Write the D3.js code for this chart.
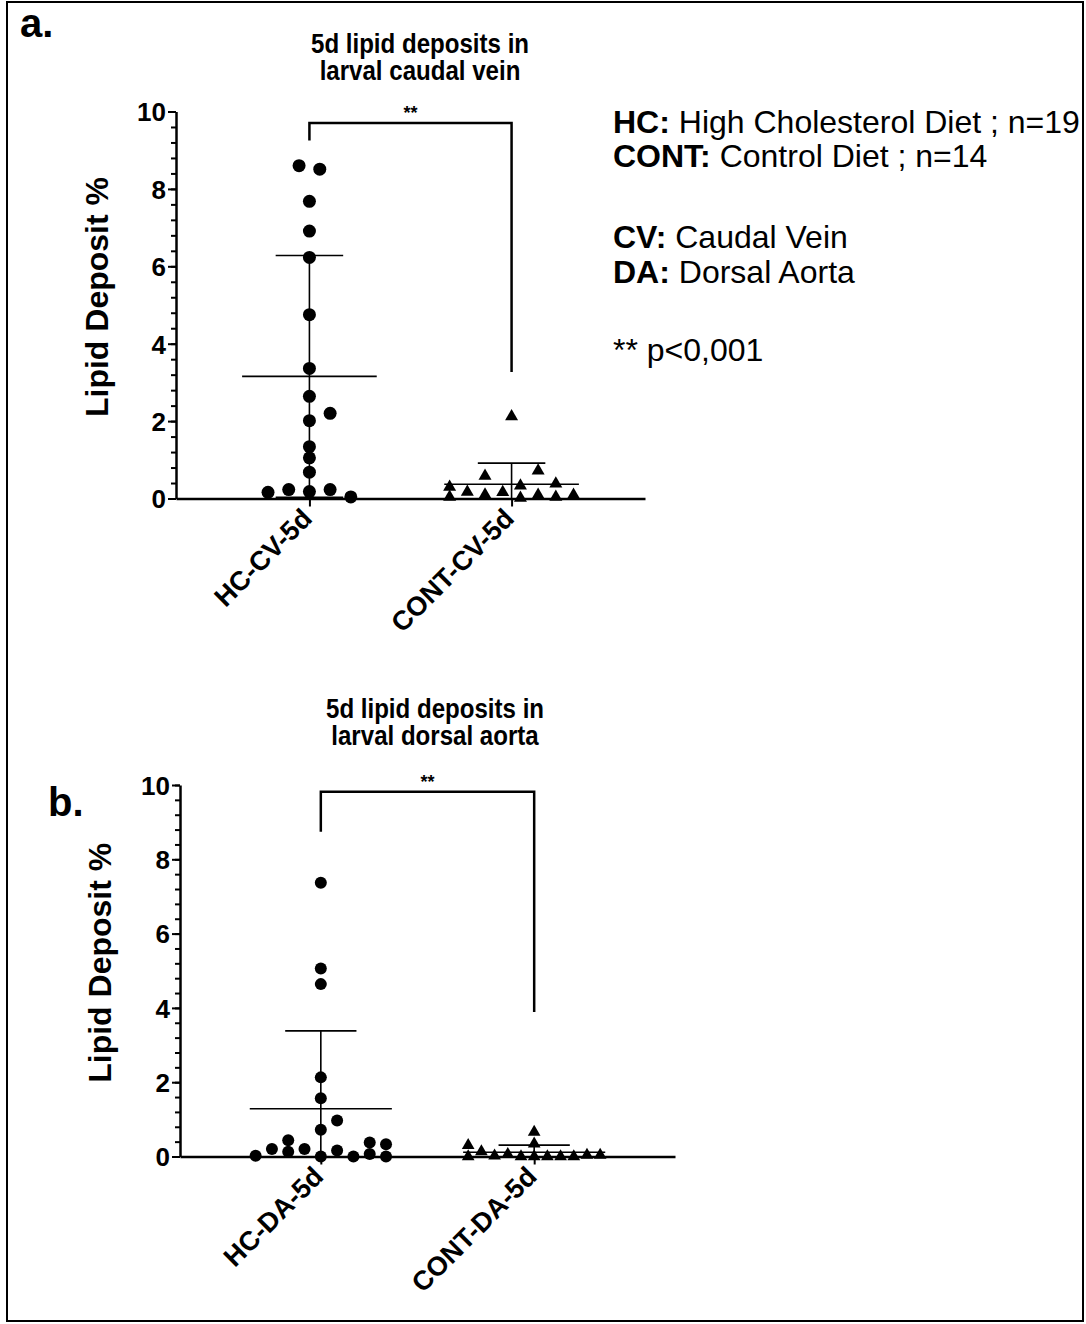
<!DOCTYPE html>
<html>
<head>
<meta charset="utf-8">
<script src="https://cdn.jsdelivr.net/npm/d3@7"></script>
<style>
  body { margin: 0; background: #fff; }
  text { font-family: "Liberation Sans", Arial, sans-serif; fill: #000; }
</style>
</head>
<body>
<div id="chart"></div>
<script>
// ---- data ----
// values in %, and the beeswarm column of each point (in marker columns from the group centre)
var hcCvValues = [8.60, 8.51, 7.68, 6.91, 6.23, 4.75, 3.36, 2.64, 2.20, 2.01, 1.34, 1.05, 0.68, 0.16, 0.23, 0.18, 0.23, 0.04];
var hcCvSwarm = [-0.5, 0.5, 0, 0, 0, 0, 0, 0, 1, 0, 0, 0, 0, -2, -1, 0, 1, 2];
var contCvValues = [2.12, 0.58, 0.72, 0.30, 0.17, 0.10, 0.16, 0.33, 0.38, 0.04, 0.01, 0.09, 0.04, 0.09];
var contCvSwarm = [0, -1.5, 1.5, -3.5, -2.5, -1.5, -0.5, 0.5, 2.5, -3.5, 0.5, 1.5, 2.5, 3.5];

var hcDaValues = [7.37, 5.06, 4.64, 2.13, 1.57, 0.97, 0.72, 0.44, 0.38, 0.33, 0.20, 0.13, 0.20, 0.16, 0.07, 0.02, 0.00, 0.00, 0.00];
var hcDaSwarm = [0, 0, 0, 0, 0, 1, 0, -2, 3, 4, -3, -2, -1, 1, 3, -4, 0, 2, 4];
var contDaValues = [0.66, 0.34, 0.30, 0.13, 0.02, 0.06, 0.00, 0.00, 0.00, 0.00, 0.00, 0.04, 0.04, 0.00];
var contDaSwarm = [0, 0, -5, -4, -3, -2, -1, 0, 1, 2, 3, 4, 5, -5];

var cvGroups = ["HC-CV-5d", "CONT-CV-5d"];
var daGroups = ["HC-DA-5d", "CONT-DA-5d"];
var yTicks = [0, 2, 4, 6, 8, 10];

// significance bracket: [bar height, left leg end, right leg end] in %
var cvBracket = [9.70, 9.25, 3.27];
var daBracket = [9.82, 8.74, 3.89];

var legendLines = [
    ["HC:", " High Cholesterol Diet ; n=19"],
    ["CONT:", " Control Diet ; n=14"],
    null,
    ["CV:", " Caudal Vein"],
    ["DA:", " Dorsal Aorta"],
    null,
    ["", "** p<0,001"]
];

var W = 1086, H = 1324;

var svg = d3.select("#chart")
    .append("svg")
    .attr("width", W)
    .attr("height", H);

// outer frame
svg.append("rect")
    .attr("x", 7).attr("y", 2)
    .attr("width", 1076).attr("height", 1319)
    .attr("fill", "none")
    .attr("stroke", "#000")
    .attr("stroke-width", 2);

function drawPanel(p) {
    var g = svg.append("g");

    var y = d3.scaleLinear()
        .domain([0, 10])
        .range([p.bottom, p.top]);

    var x = d3.scalePoint()
        .domain(p.groups)
        .range([p.left, p.right])
        .padding(0.66);
    var step = x.step();

    // minor ticks
    g.append("g")
        .attr("transform", "translate(" + p.left + ",0)")
        .call(d3.axisLeft(y).tickValues(d3.range(0, 10.01, 0.4)).tickSize(5).tickFormat(""))
        .call(function (a) { a.select(".domain").remove(); })
        .selectAll("line").attr("stroke-width", 2);

    // Y axis
    var ya = g.append("g")
        .attr("transform", "translate(" + p.left + ",0)")
        .call(d3.axisLeft(y).tickValues(yTicks).tickSize(8).tickSizeOuter(0).tickPadding(2));
    ya.select(".domain").attr("stroke-width", 2.5);
    ya.selectAll("line").attr("stroke-width", 2);
    ya.selectAll("text")
        .style("font-size", "26px")
        .style("font-weight", "bold")
        .attr("dy", "0.36em");

    // X axis, labels turned 45 degrees
    var xa = g.append("g")
        .attr("transform", "translate(0," + p.bottom + ")")
        .call(d3.axisBottom(x).tickSize(8).tickSizeOuter(0));
    xa.select(".domain").attr("stroke-width", 2.5);
    xa.selectAll("line").attr("stroke-width", 2);
    xa.selectAll("text")
        .attr("x", 0).attr("y", 0)
        .attr("dy", "0.35em")
        .attr("transform", "translate(-3,15) rotate(-45)")
        .style("text-anchor", "end")
        .style("font-size", "27px")
        .style("font-weight", "bold");

    // Y label
    g.append("text")
        .attr("transform", "translate(" + p.labelX + "," + ((p.top + p.bottom) / 2 - 8) + ") rotate(-90)")
        .attr("text-anchor", "middle")
        .style("font-size", "32px")
        .style("font-weight", "bold")
        .text("Lipid Deposit %");

    // title, two lines (condensed bold), one text element
    var t = g.append("text")
        .attr("transform", "translate(" + p.titleX + "," + p.titleY + ") scale(0.86,1)")
        .attr("text-anchor", "middle")
        .style("font-size", "28px")
        .style("font-weight", "bold");
    p.title.forEach(function (line, i) {
        t.append("tspan")
            .attr("x", 0)
            .attr("y", i * 27)
            .text(line);
    });

    // panel letter
    g.append("text")
        .attr("x", p.letterX).attr("y", p.letterY)
        .style("font-size", "40px")
        .style("font-weight", "bold")
        .text(p.letter);

    // mean and SD for each group
    p.series.forEach(function (s, i) {
        var cx = x(p.groups[i]);
        var m = d3.mean(s.values);
        var sd = d3.deviation(s.values);
        var lo = Math.max(0, m - sd);
        g.append("line")
            .attr("x1", cx).attr("x2", cx)
            .attr("y1", y(m + sd)).attr("y2", y(lo))
            .attr("stroke", "#000").attr("stroke-width", 1.6);
        g.append("line")
            .attr("x1", cx - step * 0.167).attr("x2", cx + step * 0.167)
            .attr("y1", y(m + sd)).attr("y2", y(m + sd))
            .attr("stroke", "#000").attr("stroke-width", 1.6);
        if (m - sd >= 0) {
            g.append("line")
                .attr("x1", cx - step * 0.167).attr("x2", cx + step * 0.167)
                .attr("y1", y(m - sd)).attr("y2", y(m - sd))
                .attr("stroke", "#000").attr("stroke-width", 1.6);
        }
        g.append("line")
            .attr("x1", cx - step * 0.333).attr("x2", cx + step * 0.333)
            .attr("y1", y(m)).attr("y2", y(m))
            .attr("stroke", "#000").attr("stroke-width", 1.6);

        // points
        var pts = s.values.map(function (v, j) { return { v: v, c: s.swarm[j] }; });
        if (s.shape == "circle") {
            g.selectAll(null)
                .data(pts)
                .enter()
                .append("circle")
                .attr("cx", function (d) { return cx + d.c * s.gap; })
                .attr("cy", function (d) { return y(d.v); })
                .attr("r", s.size)
                .attr("fill", "#000");
        } else {
            g.selectAll(null)
                .data(pts)
                .enter()
                .append("path")
                .attr("d", d3.symbol().type(d3.symbolTriangle).size(s.size))
                .attr("transform", function (d) {
                    return "translate(" + (cx + d.c * s.gap) + "," + y(d.v) + ")";
                })
                .attr("fill", "#000");
        }
    });

    // significance bracket
    var x0 = x(p.groups[0]), x1 = x(p.groups[1]);
    g.append("path")
        .attr("d", "M" + x0 + "," + y(p.bracket[1]) +
            "V" + y(p.bracket[0]) + "H" + x1 + "V" + y(p.bracket[2]))
        .attr("fill", "none")
        .attr("stroke", "#000")
        .attr("stroke-width", 2.5);
    g.append("text")
        .attr("x", (x0 + x1) / 2)
        .attr("y", y(p.bracket[0]) - 4)
        .attr("text-anchor", "middle")
        .style("font-size", "18px")
        .style("font-weight", "bold")
        .text("**");
}

drawPanel({
    groups: cvGroups,
    left: 176, right: 645, top: 111.5, bottom: 498.5,
    labelX: 108,
    title: ["5d lipid deposits in", "larval caudal vein"],
    titleX: 420, titleY: 53,
    letter: "a.", letterX: 20, letterY: 37,
    bracket: cvBracket,
    series: [
        { values: hcCvValues, swarm: hcCvSwarm, shape: "circle", size: 6.5, gap: 20.7 },
        { values: contCvValues, swarm: contCvSwarm, shape: "triangle", size: 73, gap: 17.7 }
    ]
});

drawPanel({
    groups: daGroups,
    left: 180, right: 675, top: 785, bottom: 1156.5,
    labelX: 111,
    title: ["5d lipid deposits in", "larval dorsal aorta"],
    titleX: 435, titleY: 718,
    letter: "b.", letterX: 48, letterY: 816,
    bracket: daBracket,
    series: [
        { values: hcDaValues, swarm: hcDaSwarm, shape: "circle", size: 6, gap: 16.3 },
        { values: contDaValues, swarm: contDaSwarm, shape: "triangle", size: 70, gap: 13.2 }
    ]
});

// legend block
var leg = svg.append("text")
    .style("font-size", "32px");
legendLines.forEach(function (l, i) {
    if (!l) return;
    var yy = 133 + [0, 34, 0, 115, 150, 0, 228][i];
    var ts = leg.append("tspan").attr("x", 613).attr("y", yy);
    ts.append("tspan").style("font-weight", "bold").text(l[0]);
    ts.append("tspan").text(l[1]);
});
</script>
</body>
</html>
